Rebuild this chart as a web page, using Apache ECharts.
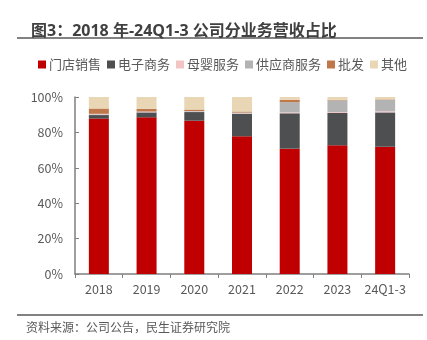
<!DOCTYPE html>
<html><head><meta charset="utf-8">
<script src="https://cdn.jsdelivr.net/npm/echarts@6/dist/echarts.min.js"></script>
<style>html,body{margin:0;padding:0;background:#fff}#c{width:427px;height:340px}</style>
</head><body><div id="c"></div>
<script>
var categories = ['2018','2019','2020','2021','2022','2023','24Q1-3'];
var seriesNames = ['门店销售','电子商务','母婴服务','供应商服务','批发','其他'];
var storeSales = [87.8, 88.5, 86.6, 77.8, 70.8, 72.7, 71.9];
var ecommerce = [2.0, 2.8, 4.9, 12.6, 20.0, 18.3, 19.4];
var maternity = [0.4, 0.3, 0.3, 0.3, 0.5, 0.5, 0.6];
var supplier = [0.3, 0.2, 0.3, 0.5, 5.8, 6.6, 6.6];
var wholesale = [3.0, 1.5, 0.8, 0.6, 1.3, 0.3, 0.2];
var others = [6.5, 6.7, 7.1, 8.2, 1.6, 1.6, 1.3];
var yTicks = ['0%','20%','40%','60%','80%','100%'];
var colors = ['#C00000','#4D4F51','#F2C4C4','#B3B3B3','#C0784A','#E8D6B4'];
var dataList = [storeSales, ecommerce, maternity, supplier, wholesale, others];

var chart = echarts.init(document.getElementById('c'));
var font = 'Noto Sans CJK SC';
chart.setOption({
  animation: false,
  textStyle: {fontFamily: font},
  color: colors,
  title: {
    text: '图3：2018 年-24Q1-3 公司分业务营收占比',
    left: 26, top: 18,
    textStyle: {fontSize: 16, fontWeight: 'bold', color: '#404040', fontFamily: '"Open Sans", "Noto Sans CJK SC", sans-serif'}
  },
  legend: {
    left: 33, top: 53,
    itemWidth: 8, itemHeight: 8, itemGap: 6,
    icon: 'rect',
    textStyle: {fontSize: 13, color: '#595959', padding: [0,0,0,-2], fontFamily: font},
    data: seriesNames
  },
  grid: {left: 75, right: 18, top: 97, bottom: 66},
  xAxis: {
    type: 'category', data: categories,
    axisLine: {lineStyle: {color: '#7F7F7F', width: 1.5}},
    axisTick: {show: true, length: 4, inside: false, lineStyle: {color: '#7F7F7F'}},
    axisLabel: {interval: 0, fontSize: 12.5, color: '#595959', margin: 9, fontFamily: font}
  },
  yAxis: {
    type: 'value', min: 0, max: 100, interval: 20,
    axisLine: {show: true, lineStyle: {color: '#7F7F7F', width: 1.5}},
    axisTick: {show: true, inside: true, length: 4, lineStyle: {color: '#7F7F7F'}},
    splitLine: {show: false},
    axisLabel: {fontSize: 12.5, color: '#595959', margin: 12, fontFamily: font,
      formatter: function(v){ return yTicks[Math.round(v/20)]; }}
  },
  series: seriesNames.map(function(n, i){
    return {name: n, type: 'bar', stack: 'a', barWidth: 20, data: dataList[i]};
  }),
  graphic: [
    {type: 'line', shape: {x1: 17, y1: 38, x2: 423, y2: 38}, style: {stroke: '#595959', lineWidth: 1.5}},
    {type: 'line', shape: {x1: 17, y1: 315, x2: 423, y2: 315}, style: {stroke: '#595959', lineWidth: 1.5}},
    {type: 'text', left: 26, top: 321, style: {text: '资料来源：公司公告，民生证券研究院', fontSize: 12, fill: '#595959', fontFamily: font}}
  ]
});
</script></body></html>
